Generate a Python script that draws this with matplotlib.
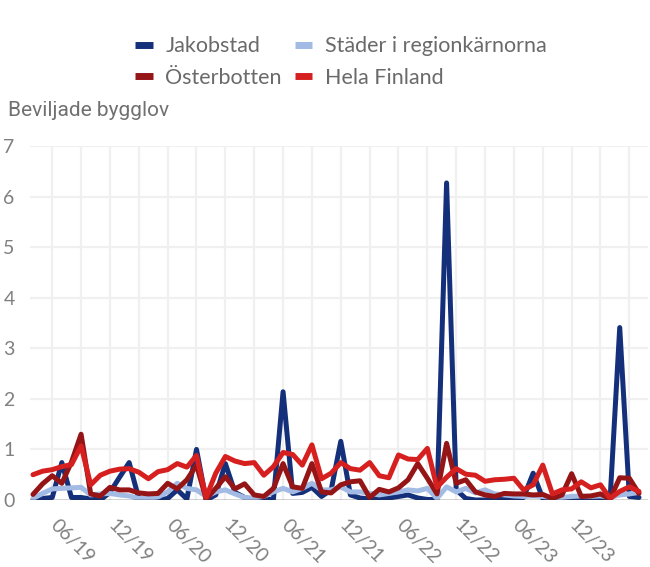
import matplotlib
matplotlib.use("Agg")
import matplotlib.pyplot as plt
import numpy as np
import pandas as pd
from matplotlib import font_manager as fm

months = pd.date_range("2019-04-01", periods=64, freq="MS")

jakobstad = [0.0, 0.03, 0.05, 0.74, 0.05, 0.05, 0.02, 0.0, 0.15, 0.45,
             0.74, 0.03, 0.0, 0.0, 0.03, 0.2, 0.02, 1.0, 0.0, 0.1,
             0.72, 0.15, 0.05, 0.0, 0.0, 0.02, 2.14, 0.13, 0.15, 0.25,
             0.07, 0.2, 1.16, 0.1, 0.04, 0.02, 0.05, 0.04, 0.07, 0.1,
             0.04, 0.01, 0.01, 6.27, 0.2, 0.03, 0.0, 0.0, 0.02, 0.02,
             0.02, 0.05, 0.53, 0.03, 0.0, 0.0, 0.02, 0.02, 0.02, 0.02,
             0.02, 3.41, 0.07, 0.05]

stader = [0.03, 0.13, 0.22, 0.23, 0.24, 0.25, 0.1, 0.12, 0.13, 0.1,
          0.08, 0.03, 0.03, 0.06, 0.16, 0.33, 0.23, 0.2, 0.07, 0.16,
          0.2, 0.12, 0.05, 0.04, 0.07, 0.16, 0.23, 0.16, 0.23, 0.33,
          0.2, 0.2, 0.26, 0.16, 0.16, 0.13, 0.1, 0.13, 0.16, 0.2,
          0.18, 0.23, 0.03, 0.26, 0.16, 0.23, 0.14, 0.2, 0.12, 0.1,
          0.08, 0.07, 0.08, 0.07, 0.05, 0.05, 0.07, 0.08, 0.07, 0.08,
          0.05, 0.1, 0.12, 0.15]

osterbotten = [0.11, 0.32, 0.48, 0.33, 0.75, 1.3, 0.12, 0.08, 0.25, 0.2,
               0.2, 0.14, 0.12, 0.13, 0.33, 0.22, 0.4, 0.69, 0.02, 0.23,
               0.46, 0.22, 0.32, 0.1, 0.07, 0.23, 0.72, 0.26, 0.23, 0.72,
               0.16, 0.14, 0.3, 0.36, 0.38, 0.05, 0.21, 0.16, 0.24, 0.4,
               0.72, 0.43, 0.12, 1.12, 0.33, 0.4, 0.16, 0.1, 0.07, 0.13,
               0.12, 0.12, 0.1, 0.11, 0.03, 0.1, 0.52, 0.07, 0.08, 0.12,
               0.02, 0.44, 0.43, 0.13]

hela_finland = [0.5, 0.57, 0.6, 0.66, 0.7, 1.07, 0.3, 0.49, 0.57, 0.61,
                0.62, 0.55, 0.42, 0.56, 0.6, 0.72, 0.65, 0.88, 0.05, 0.53,
                0.86, 0.77, 0.72, 0.74, 0.49, 0.66, 0.94, 0.9, 0.69, 1.09,
                0.42, 0.53, 0.74, 0.62, 0.59, 0.74, 0.48, 0.44, 0.89, 0.81,
                0.8, 1.02, 0.25, 0.45, 0.62, 0.51, 0.49, 0.37, 0.4, 0.41,
                0.43, 0.2, 0.3, 0.69, 0.12, 0.2, 0.22, 0.36, 0.24, 0.3,
                0.03, 0.17, 0.26, 0.17]

series_names = ["Jakobstad", "Städer i regionkärnorna", "Österbotten", "Hela Finland"]
series_colors = ["#15307a", "#a2bbe5", "#951517", "#d62020"]

tick_labels = ["06/19", "12/19", "06/20", "12/20", "06/21", "12/21",
               "06/22", "12/22", "06/23", "12/23"]
y_ticks = [0, 1, 2, 3, 4, 5, 6, 7]

names = [f.name for f in fm.fontManager.ttflist]
light_font = "Lato" if "Lato" in names else "DejaVu Sans"

W, H = 650, 567
fig = plt.figure(figsize=(W / 100, H / 100), dpi=100)
ax_left, ax_right, ax_bottom, ax_top = 30, 648, 500, 146
ax = fig.add_axes([ax_left / W, 1 - ax_bottom / H, (ax_right - ax_left) / W,
                   (ax_bottom - ax_top) / H])

x = np.arange(len(months))
data = {"Jakobstad": jakobstad, "Städer i regionkärnorna": stader,
        "Österbotten": osterbotten, "Hela Finland": hela_finland}
lines = {}
for name, c in zip(series_names, series_colors):
    ln, = ax.plot(x, data[name], color=c, lw=3.6, solid_joinstyle="round",
                  solid_capstyle="round", label=name, zorder=3)
    lines[name] = ln

ax.set_xlim(-0.31, 63.94)
ax.set_ylim(0, 7)

# grid
grid_pos = np.arange(2, 64, 3)
for g in grid_pos:
    ax.axvline(g, color="#f0f0f0", lw=1.6, zorder=0)
for yv in y_ticks[1:]:
    ax.axhline(yv, color="#f0f0f0", lw=1.6, zorder=0)
ax.axhline(0, color="#222222", lw=1.0, zorder=4)

tick_pos = [months.get_loc(pd.Timestamp(f"20{t[3:]}-{t[:2]}-01")) for t in tick_labels]
ax.set_xticks(tick_pos)
ax.set_xticklabels([])
for p, t in zip(tick_pos, tick_labels):
    ax.annotate(t, xy=(p, 0), xycoords=("data", "axes fraction"),
                xytext=(5, -12), textcoords="offset points",
                rotation=-45, ha="left", va="top", rotation_mode="anchor",
                fontsize=14, color="#808080", family=light_font,
                annotation_clip=False)
ax.set_yticks(y_ticks)
ax.set_yticklabels([str(v) for v in y_ticks], fontsize=14, color="#808080",
                   family=light_font)
ax.tick_params(axis="x", length=0, pad=12)
ax.tick_params(axis="y", length=0, pad=11)
for s in ax.spines.values():
    s.set_visible(False)

fig.text(8 / W, 1 - 110 / H, "Beviljade bygglov", fontsize=15, color="#707070",
         family="Roboto", va="center", ha="left")

leg_handles = [lines["Jakobstad"], lines["Österbotten"],
               lines["Städer i regionkärnorna"], lines["Hela Finland"]]
leg_labels = ["Jakobstad", "Österbotten", "Städer i regionkärnorna", "Hela Finland"]
leg = fig.legend(leg_handles, leg_labels, ncol=2, loc="center",
                 bbox_to_anchor=(341 / W, 1 - 62 / H), frameon=False,
                 prop={"family": light_font, "size": 15.5},
                 handlelength=0.8, handletextpad=0.6, columnspacing=0.6,
                 labelspacing=0.55)
for t in leg.get_texts():
    t.set_color("#6a6a6a")
for h in leg.legend_handles:
    h.set_linewidth(5)
    h.set_solid_capstyle("butt")

fig.savefig("out.png", dpi=100)
